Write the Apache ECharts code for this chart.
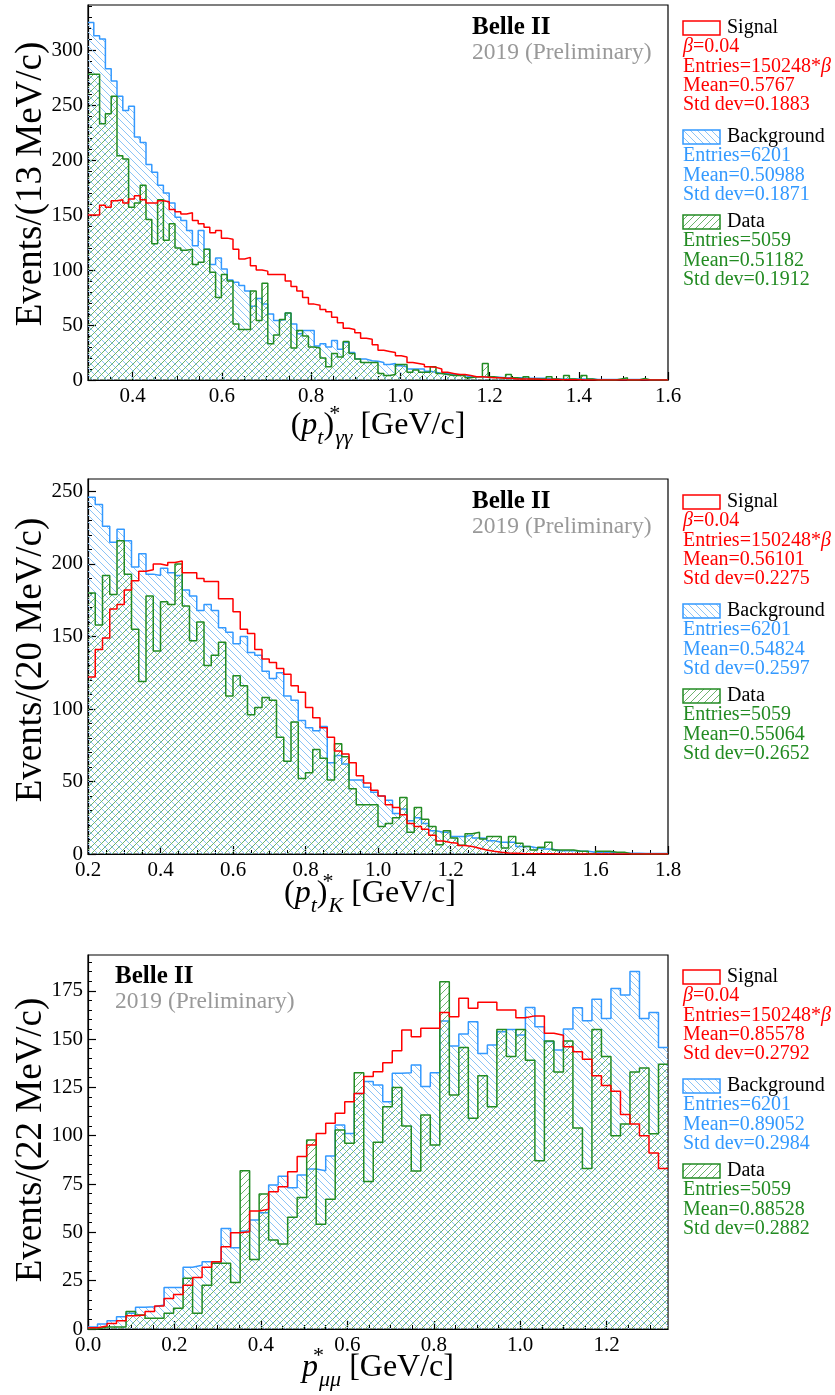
<!DOCTYPE html>
<html><head><meta charset="utf-8">
<script src="https://cdn.jsdelivr.net/npm/echarts@6/dist/echarts.min.js"></script>
<style>html,body{margin:0;padding:0;background:#fff}#c{width:835px;height:1395px}</style>
</head><body><div id="c"></div><script>
// ---------------- data ----------------
// Panel 1 : (pt)*_gg, 100 bins of 13 MeV from 0.3
const p1Lo = 0.3, p1W = 0.013;
const sig1 = [150,150,159,157,163,164,161,164.5,167.5,164,161,161,163,162,155,153,151,152,145,142,139,134,136,129,128,119,110,111.5,104,100,99,96,96,96,
 90,85,81,75,69,68,64,62,57,52,47,46,43,38,37,32,27,26,25,22,21,16,15,14,12,11.5,10,7,6,5,5,4,3,3,
 2.5,2,2,1.5,1.5,1,1,1,0.8,0.6,0.5,0.5,0.4,0.3,0.3,0.2,0.2,0.1,0.1,0.1,0,0,0,0,0,0,0,0,0,0,0,0];
const bkg1 = [325,313,310,283,272,258,245,249,221,216,196,189,177,170,161,148,145,136,122,136,119,105,111,101,91,89,86,81,67,74,69,60,54,55,
 61,51,42,45,45,31,33,30,36,28,34,25,19,19,17.5,17,16,14,15,13,12,10,10,10,8,7,6,6,5,5,4,3,3,3,
 3,2.5,2.5,2,2,2,2,1.5,1.5,1.5,1.5,1,1,1,1,1,1,1,1,0.5,0.5,0.5,0.5,0.5,0.5,0.5,0.5,0.5,0.3,0.3,0.3,0.3];
const dat1 = [278,278,233,242,258,204,201,157,161,177,146,124,164,127,142,120,118,119,105,107,119,98,75,96,90,51,46,46,81,54,88,33,41,55,
 61,29,45,40,30,29,20,12,24,21,35,24,19,16,16,16,6,4,5,14,14,7,9,7,7,12,6,5,4,4,4,2,3,3,
 15,3,2,2,5,2,1,3,1,1,1,3,1,0,4,1,0,4,1,0,0,0,0,1,2,0,0,1.5,0,0,0,0];
// Panel 2 : (pt)*_K, 80 bins of 20 MeV from 0.2
const p2Lo = 0.2, p2W = 0.02;
const sig2 = [122,141,149,169,172,182,188.5,195,196,200,199,201,202,194,194,190,188,188,176,176,167,155,152,141,134.5,132,128,
 124,116,111.5,101,94,87,80.5,71,69,63,54,49,44,40,34,32,27,21,19,17,13,9,8,7.4,5.8,5.1,4,
 2.8,1.9,1.2,0.7,0.5,0.3,0.2,0.2,0.1,0.1,0,0,0,0,0,0,0,0,0,0,0,0,0,0,0,0];
const bkg2 = [246,241,226,215,224,216,198,207,193,192,197,194,192,182,178,168,172,168,156,153,145,150,139,137,126,121,125,
 109,106,92,87,85,88,63,68,62,51,51,46,42.5,40,37,28,31,23,25,21,16,15,15,12,12,13,11,
 10.8,9.2,8.1,8.1,8.1,5.1,5.1,4.2,3.5,3.5,2.3,2.3,2.3,1.9,1.9,1.2,1.2,1.2,0.7,0.7,0.5,0.5,0.3,0.3,0.3,0.3];
const dat2 = [180,158,192,179,216,193,155,119,178,140,174,172,200,171,147,160,130,137,146,109,123,116,96,101,108,106,80.5,
 64,91,52,56,72,66,51,76,67,45,34,34,34,19,21,25,39,15,32,24,19,6.4,16,11,6,14,15,
 10.4,12,12,4.2,12,7.4,5.1,2.8,4.6,8.1,2.8,2.8,2.8,1.9,1.9,0,1.9,1.9,1.2,1.2,0,0,0,0,0,0];
// Panel 3 : p*_mumu, 61 bins of 22 MeV from 0
const p3Lo = 0.0, p3W = 0.022;
const sig3 = [0.7,1.5,2.9,4.3,6.9,7.2,9,11.9,15.8,17.9,22.7,26.7,31.9,34.8,42.6,49.8,50.3,61,61.9,71,73.6,
 81.4,89.2,95.2,101.2,106.4,111.6,117.6,121.9,130.6,133.1,137.8,144,154.7,151.2,155.6,155.6,163.7,161.6,171.1,
 166,169,169,165,165,161,162,162,153,152,146,143.5,139.5,131,126,123,111,106,100,91,83];
const bkg3 = [1,2.6,4.3,6.4,8.1,11.2,11.5,12.4,21.5,21.5,32,33,34.8,34,52,42,50.7,56.4,60.2,74.5,79,
 73.1,79.7,82.8,81.9,89.5,105.5,101.2,121.9,128,126.2,117.6,132.3,132.6,136.6,125.4,132.6,159.3,146.4,152.6,
 159,142.6,146.9,153.8,155,152.1,166.4,156.4,148.7,144.3,155.2,166.2,159.5,170.6,160.7,176.2,172.8,184.9,160.7,163.7,145.7];
const dat3 = [0,1,1,1,9,7.2,5.5,5.5,8.1,10.7,26.2,8.1,22.7,34,34,24.1,81.9,36,69.8,46,44,
 57.8,68.1,97.8,54.2,67.1,103,96.1,132.6,76.3,96.6,115,124.9,105,81.8,110.7,95.2,179.7,121.1,145.7,
 109,131,115,155,141,155,139,87,149,133,149,104,83,155,141,100,106,133,135,101,137];

// tick labels
const x1Ticks = [0.4,0.6,0.8,1.0,1.2,1.4,1.6];
const x2Ticks = [0.2,0.4,0.6,0.8,1.0,1.2,1.4,1.6,1.8];
const x3Ticks = [0.0,0.2,0.4,0.6,0.8,1.0,1.2];
const y1Ticks = [0,50,100,150,200,250,300];
const y2Ticks = [0,50,100,150,200,250];
const y3Ticks = [0,25,50,75,100,125,150,175];

// legend texts ({b|β} = italic beta)
const yTitles = ['Events/(13 MeV/c)','Events/(20 MeV/c)','Events/(22 MeV/c)'];
const sigStats = [['{b|β}=0.04','Entries=150248*{b|β}','Mean=0.5767','Std dev=0.1883'],
                  ['{b|β}=0.04','Entries=150248*{b|β}','Mean=0.56101','Std dev=0.2275'],
                  ['{b|β}=0.04','Entries=150248*{b|β}','Mean=0.85578','Std dev=0.2792']];
const bkgStats = [['Entries=6201','Mean=0.50988','Std dev=0.1871'],
                  ['Entries=6201','Mean=0.54824','Std dev=0.2597'],
                  ['Entries=6201','Mean=0.89052','Std dev=0.2984']];
const datStats = [['Entries=5059','Mean=0.51182','Std dev=0.1912'],
                  ['Entries=5059','Mean=0.55064','Std dev=0.2652'],
                  ['Entries=5059','Mean=0.88528','Std dev=0.2882']];

// ---------------- style / layout ----------------
const F = "'Liberation Serif', 'DejaVu Serif', serif";
const RED = '#ff0000', BLUE = '#3399ff', GREEN = '#228b22';
function hatch(color, dir, s) {
  const c = document.createElement('canvas'); c.width = s; c.height = s;
  const g = c.getContext('2d'); g.strokeStyle = color; g.lineWidth = 1; g.beginPath();
  for (const o of [-s, 0, s]) {
    if (dir === 'back') { g.moveTo(o, 0); g.lineTo(o + s, s); }
    else { g.moveTo(o, s); g.lineTo(o + s, 0); }
  }
  g.stroke();
  return { image: c, repeat: 'repeat' };
}
const hBlue = hatch('#8cc4f6', 'back', 7);
const hGreen = hatch('#6db36d', 'fwd', 7);

function hist(lo, w, vals) {
  const d = vals.map((v, k) => [lo + k * w, v]);
  d.push([lo + vals.length * w, vals[vals.length - 1]]);
  return d;
}
function steps(a, b, s) { const r = []; for (let v = a; v <= b + 1e-9; v += s) r.push(+v.toFixed(4)); return r; }

const panels = [
  { top: 5, height: 375, xmin: 0.3, xmax: 1.6, ymax: 341, xT: x1Ticks, yT: y1Ticks, xMinStep: 0.05, yMinStep: 10, lo: p1Lo, w: p1W, sig: sig1, bkg: bkg1, dat: dat1 },
  { top: 479, height: 375, xmin: 0.2, xmax: 1.8, ymax: 258.6, xT: x2Ticks, yT: y2Ticks, xMinStep: 0.05, yMinStep: 10, lo: p2Lo, w: p2W, sig: sig2, bkg: bkg2, dat: dat2 },
  { top: 955, height: 374, xmin: 0.0, xmax: 1.342, ymax: 193.5, xT: x3Ticks, yT: y3Ticks, xMinStep: 0.05, yMinStep: 5, lo: p3Lo, w: p3W, sig: sig3, bkg: bkg3, dat: dat3 }
];

const grid = [], xAxis = [], yAxis = [], series = [];
const axLine = { show: true, onZero: false, lineStyle: { color: '#000', width: 1.2 } };
panels.forEach((p, i) => {
  grid.push({ left: 88, top: p.top, width: 580, height: p.height, show: true, borderColor: '#000', borderWidth: 1.2, backgroundColor: 'transparent' });
  xAxis.push({ type: 'value', gridIndex: i, min: p.xmin, max: p.xmax, position: 'bottom', axisLine: axLine,
    axisTick: { show: true, inside: true, length: 8, customValues: p.xT, lineStyle: { color: '#000', width: 1.2 } },
    axisLabel: { customValues: p.xT, formatter: v => v.toFixed(1), fontFamily: F, fontSize: 21, color: '#000', margin: 6 },
    splitLine: { show: false } });
  xAxis.push({ type: 'value', gridIndex: i, min: p.xmin, max: p.xmax, position: 'bottom', axisLine: { show: false, onZero: false },
    axisTick: { show: true, inside: true, length: 4, customValues: steps(Math.ceil(p.xmin / p.xMinStep - 1e-9) * p.xMinStep, p.xmax, p.xMinStep), lineStyle: { color: '#000', width: 1 } },
    axisLabel: { show: false }, splitLine: { show: false } });
  yAxis.push({ type: 'value', gridIndex: i, min: 0, max: p.ymax, position: 'left', axisLine: axLine,
    axisTick: { show: true, inside: true, length: 8, customValues: p.yT, lineStyle: { color: '#000', width: 1.2 } },
    axisLabel: { customValues: p.yT, fontFamily: F, fontSize: 21, color: '#000', margin: 5 },
    splitLine: { show: false } });
  yAxis.push({ type: 'value', gridIndex: i, min: 0, max: p.ymax, position: 'left', axisLine: { show: false, onZero: false },
    axisTick: { show: true, inside: true, length: 4, customValues: steps(0, p.ymax, p.yMinStep), lineStyle: { color: '#000', width: 1 } },
    axisLabel: { show: false }, splitLine: { show: false } });
  const base = { type: 'line', step: 'end', symbol: 'none', xAxisIndex: 2 * i, yAxisIndex: 2 * i, silent: true };
  series.push(Object.assign({}, base, { name: 'Background', data: hist(p.lo, p.w, p.bkg), lineStyle: { color: BLUE, width: 1.5 }, areaStyle: { color: hBlue, opacity: 1 }, z: 2 }));
  series.push(Object.assign({}, base, { name: 'Data', data: hist(p.lo, p.w, p.dat), lineStyle: { color: GREEN, width: 1.5 }, areaStyle: { color: hGreen, opacity: 1 }, z: 3 }));
  series.push(Object.assign({}, base, { name: 'Signal', data: hist(p.lo, p.w, p.sig), lineStyle: { color: RED, width: 1.5 }, z: 4 }));
});

// ---------------- texts ----------------
function T(x, y, text, o) {
  o = o || {};
  const st = { text: text, fill: o.fill || '#000', fontFamily: F, fontSize: o.size || 20, fontWeight: o.weight || 'normal',
    align: o.align || 'left', textAlign: o.align || 'left', verticalAlign: 'middle', textVerticalAlign: 'middle' };
  if (o.rich) st.rich = o.rich;
  return { type: 'text', x: x, y: y, rotation: o.rot || 0, silent: true, z: 100, style: st };
}
const betaRich = { b: { fontFamily: F, fontSize: 20, fontStyle: 'italic', fill: RED } };
const graphic = [];
const offs = [0, 474, 949];
const labPos = [[472, 28, 53], [472, 502, 527], [115, 977, 1002]];
const yTitleY = [184, 660, 1140];
offs.forEach((off, i) => {
  graphic.push(T(labPos[i][0], labPos[i][1], 'Belle II', { weight: 'bold', size: 25 }));
  graphic.push(T(labPos[i][0], labPos[i][2], '2019 (Preliminary)', { fill: '#999999', size: 23.5 }));
  graphic.push(T(31, yTitleY[i], yTitles[i], { size: 37, align: 'center', rot: Math.PI / 2 }));
  // legend
  graphic.push({ type: 'rect', silent: true, z: 100, shape: { x: 683, y: off + 21, width: 37, height: 14 }, style: { fill: '#fff', stroke: RED, lineWidth: 1.5 } });
  graphic.push(T(727, off + 28, 'Signal'));
  sigStats[i].forEach((s, k) => graphic.push(T(683, off + 47 + 19.4 * k, s, { fill: RED, rich: betaRich })));
  graphic.push({ type: 'rect', silent: true, z: 100, shape: { x: 683, y: off + 130, width: 37, height: 14 }, style: { fill: hBlue, stroke: BLUE, lineWidth: 1.5 } });
  graphic.push(T(727, off + 137, 'Background'));
  bkgStats[i].forEach((s, k) => graphic.push(T(683, off + 156 + 19.4 * k, s, { fill: BLUE })));
  graphic.push({ type: 'rect', silent: true, z: 100, shape: { x: 683, y: off + 215, width: 37, height: 14 }, style: { fill: hGreen, stroke: GREEN, lineWidth: 1.5 } });
  graphic.push(T(727, off + 222, 'Data'));
  datStats[i].forEach((s, k) => graphic.push(T(683, off + 241 + 19.4 * k, s, { fill: GREEN })));
});
const richT = {
  n: { fontFamily: F, fontSize: 32, lineHeight: 46 },
  i: { fontFamily: F, fontSize: 32, fontStyle: 'italic', lineHeight: 46 },
  subi: { fontFamily: F, fontSize: 22, fontStyle: 'italic', verticalAlign: 'bottom' },
  sup: { fontFamily: F, fontSize: 22, verticalAlign: 'top', width: 1 }
};
graphic.push(T(378, 426, '{n|(}{i|p}{subi|t}{n|)}{sup|*}{subi|γγ}{n| [GeV/c]}', { align: 'center', rich: richT }));
graphic.push(T(370, 894, '{n|(}{i|p}{subi|t}{n|)}{sup|*}{subi|K}{n| [GeV/c]}', { align: 'center', rich: richT }));
graphic.push(T(378, 1368, '{i|p}{sup|*}{subi|μμ}{n| [GeV/c]}', { align: 'center', rich: richT }));

const chart = echarts.init(document.getElementById('c'), null, { renderer: 'canvas' });
chart.setOption({ animation: false, backgroundColor: '#fff', grid, xAxis, yAxis, series, graphic });
</script></body></html>
